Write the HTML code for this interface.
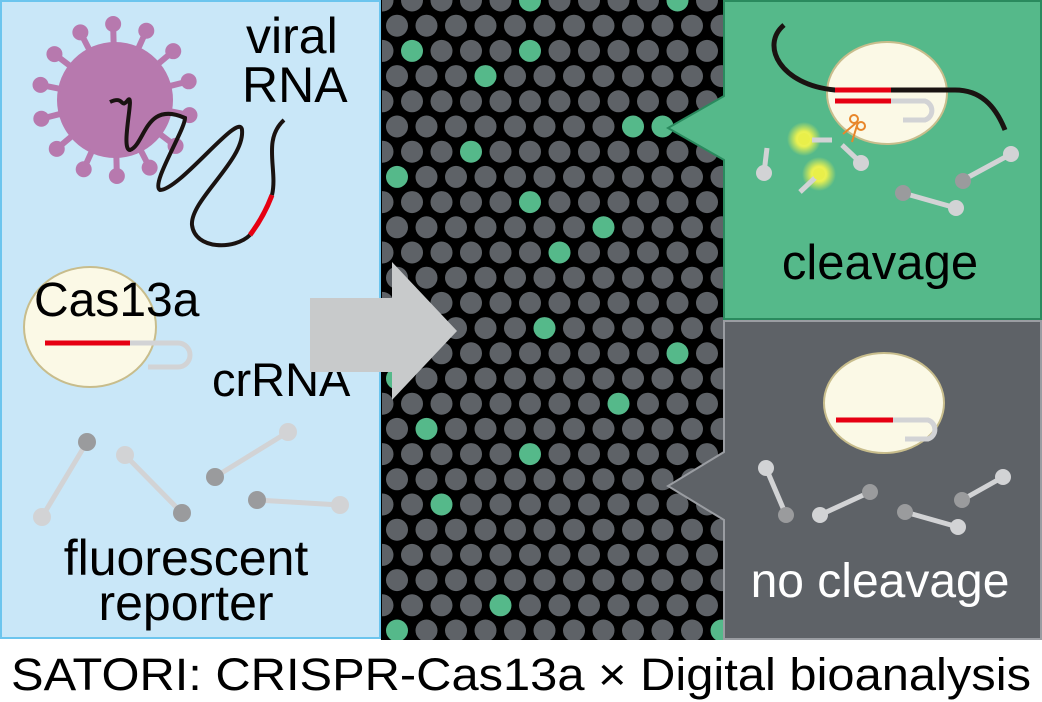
<!DOCTYPE html>
<html><head><meta charset="utf-8"><style>
html,body{margin:0;padding:0;background:#fff;}
svg{display:block;font-family:"Liberation Sans",Arial,sans-serif;}
</style></head><body>
<svg id="s" width="1042" height="702" viewBox="0 0 1042 702" xmlns="http://www.w3.org/2000/svg">
<defs>
<clipPath id="mid"><rect x="382" y="0" width="341" height="640"/></clipPath>
<radialGradient id="glow"><stop offset="0" stop-color="#f4f86a"/><stop offset="0.45" stop-color="#e8f050"/><stop offset="1" stop-color="#e8f050" stop-opacity="0"/></radialGradient>
</defs>
<rect x="1" y="1" width="379" height="637" fill="#c9e7f8" stroke="#6cc5ee" stroke-width="2"/>
<rect x="381" y="0" width="342" height="640" fill="#000"/>
<g id="dots" clip-path="url(#mid)"></g>
<path d="M724 1 H1041 V319 H724 V160 L668 128 L724 96 Z" fill="#55b98a" stroke="#2a8a5e" stroke-width="2"/>
<path d="M724 321 H1041 V639 H724 V520 L668 486 L724 452 Z" fill="#5e6267" stroke="#9a9da2" stroke-width="2"/>

<g fill="#b779ae" stroke="#b779ae">
<circle cx="115" cy="100" r="58" stroke="none"/>
<g stroke-width="6" id="spikes"></g>
</g>
<path d="M110 102 C125 95 120 110 128 100 C135 92 120 150 130 150 C145 145 145 100 185 118 C185 130 150 185 160 190 C180 190 240 110 242 130 C245 160 190 200 192 225 C195 250 235 250 250 235" fill="none" stroke="#1a1311" stroke-width="4"/>
<path d="M250 235 C265 215 270 200 272 195" fill="none" stroke="#e60012" stroke-width="5"/>
<path d="M272 195 C278 170 262 140 284 120" fill="none" stroke="#1a1311" stroke-width="4"/>
<text x="246" y="53" font-size="50">viral</text>
<text x="242" y="102" font-size="50">RNA</text>

<ellipse cx="90" cy="327" rx="66" ry="60" fill="#fbf9e6" stroke="#c8bd8c" stroke-width="2"/>
<text x="34" y="316" font-size="48">Cas13a</text>
<line x1="45" y1="343" x2="130" y2="343" stroke="#e60012" stroke-width="5"/>
<path d="M130 343 H178 A12 12 0 0 1 178 367 H148" fill="none" stroke="#d2d3d5" stroke-width="5"/>
<text x="212" y="396" font-size="47">crRNA</text>

<g stroke="#d2d3d5" stroke-width="5">
<line x1="42" y1="517" x2="87" y2="442"/><line x1="125" y1="455" x2="182" y2="513"/>
<line x1="215" y1="477" x2="288" y2="432"/><line x1="257" y1="500" x2="340" y2="505"/>
</g>
<circle cx="42" cy="517" r="9" fill="#d2d3d5"/><circle cx="87" cy="442" r="9" fill="#9a9b9d"/>
<circle cx="125" cy="455" r="9" fill="#d2d3d5"/><circle cx="182" cy="513" r="9" fill="#9a9b9d"/>
<circle cx="215" cy="477" r="9" fill="#9a9b9d"/><circle cx="288" cy="432" r="9" fill="#d2d3d5"/>
<circle cx="257" cy="500" r="9" fill="#9a9b9d"/><circle cx="340" cy="505" r="9" fill="#d2d3d5"/>
<text x="186" y="575" font-size="50" text-anchor="middle">fluorescent</text>
<text x="186" y="620" font-size="50" text-anchor="middle">reporter</text>

<path d="M310 298 H392 V262 L457 331 L392 400 V372 H310 Z" fill="#c8cacb"/>

<ellipse cx="887" cy="93" rx="60" ry="51" fill="#fbf9e6" stroke="#c8bd8c" stroke-width="2"/>
<path d="M784 25 C760 45 780 85 835 90 H955 C980 90 995 105 1005 130" fill="none" stroke="#1a1311" stroke-width="5"/>
<line x1="835" y1="90" x2="891" y2="90" stroke="#e60012" stroke-width="5"/>
<line x1="835" y1="101" x2="891" y2="101" stroke="#e60012" stroke-width="5"/>
<path d="M891 101 H925 A10 10 0 0 1 925 120 H903" fill="none" stroke="#d2d3d5" stroke-width="5"/>
<g stroke="#e8862a" stroke-width="2" fill="none"><circle cx="854" cy="119" r="4"/><circle cx="861" cy="126" r="4"/><line x1="856" y1="123" x2="843" y2="134"/><line x1="858" y1="122" x2="852" y2="142"/></g>
<circle cx="804" cy="139" r="17" fill="url(#glow)"/><circle cx="819" cy="174" r="17" fill="url(#glow)"/>
<g stroke="#d2d3d5" stroke-width="5">
<line x1="812" y1="140" x2="832" y2="140"/><line x1="842" y1="145" x2="860" y2="162"/>
<line x1="767" y1="148" x2="764" y2="173"/><line x1="817" y1="176" x2="800" y2="192"/>
<line x1="963" y1="180" x2="1011" y2="154"/><line x1="903" y1="193" x2="956" y2="208"/>
</g>
<circle cx="804" cy="139" r="6" fill="#e9ef4a"/><circle cx="819" cy="174" r="6" fill="#e9ef4a"/>
<circle cx="861" cy="163" r="8" fill="#d2d3d5"/><circle cx="764" cy="173" r="8" fill="#d2d3d5"/>
<circle cx="963" cy="181" r="8" fill="#9a9b9d"/><circle cx="1011" cy="154" r="8" fill="#d2d3d5"/>
<circle cx="903" cy="193" r="8" fill="#9a9b9d"/><circle cx="956" cy="208" r="8" fill="#d2d3d5"/>
<text x="880" y="279" font-size="49" text-anchor="middle">cleavage</text>

<ellipse cx="884" cy="403" rx="60" ry="50" fill="#fbf9e6" stroke="#c8bd8c" stroke-width="2"/>
<line x1="836" y1="420" x2="893" y2="420" stroke="#e60012" stroke-width="5"/>
<path d="M893 420 H928 A10 10 0 0 1 928 439 H905" fill="none" stroke="#d2d3d5" stroke-width="5"/>
<g stroke="#d2d3d5" stroke-width="5">
<line x1="766" y1="468" x2="786" y2="515"/><line x1="820" y1="515" x2="870" y2="492"/>
<line x1="905" y1="512" x2="958" y2="527"/><line x1="962" y1="500" x2="1003" y2="477"/>
</g>
<circle cx="766" cy="468" r="8" fill="#d2d3d5"/><circle cx="786" cy="515" r="8" fill="#9a9b9d"/>
<circle cx="820" cy="515" r="8" fill="#d2d3d5"/><circle cx="870" cy="492" r="8" fill="#9a9b9d"/>
<circle cx="905" cy="512" r="8" fill="#9a9b9d"/><circle cx="958" cy="527" r="8" fill="#d2d3d5"/>
<circle cx="962" cy="500" r="8" fill="#9a9b9d"/><circle cx="1003" cy="477" r="8" fill="#d2d3d5"/>
<text x="880" y="597" font-size="48" text-anchor="middle" fill="#fff">no cleavage</text>

<text x="521" y="690" font-size="45" text-anchor="middle" textLength="1020" lengthAdjust="spacingAndGlyphs">SATORI: CRISPR-Cas13a × Digital bioanalysis</text>
</svg>
<script>
(function(){
var ns="http://www.w3.org/2000/svg",g=document.getElementById("dots");
var greens=[[412,51],[530,0],[530,51],[471,76],[471,151],[397,177],[530,202],[603,227],[560,252],[633,126],[662,126],[545,328],[677,353],[397,378],[618,404],[427,429],[530,455],[442,505],[501,606],[397,631],[707,631],[677,0]];
function isG(x,y){for(var i=0;i<greens.length;i++){if(Math.abs(greens[i][0]-x)<15&&Math.abs(greens[i][1]-y)<13)return true;}return false;}
for(var r=0;r<27;r++){var y=r*25.2+0.5;var off=(r%2==1)?397:382.5;
for(var x=off;x<740;x+=29.5){var c=document.createElementNS(ns,"circle");c.setAttribute("cx",x);c.setAttribute("cy",y);c.setAttribute("r",11);c.setAttribute("fill",isG(x,y)?"#55b98a":"#5e6267");g.appendChild(c);}}
var sp=document.getElementById("spikes");
for(var k=0;k<14;k++){var a=k*2*Math.PI/14+0.2;var x1=115+55*Math.cos(a),y1=100+55*Math.sin(a),x2=115+74*Math.cos(a),y2=100+74*Math.sin(a);
var l=document.createElementNS(ns,"line");l.setAttribute("x1",x1);l.setAttribute("y1",y1);l.setAttribute("x2",x2);l.setAttribute("y2",y2);sp.appendChild(l);
var e=document.createElementNS(ns,"circle");e.setAttribute("cx",115+76*Math.cos(a));e.setAttribute("cy",100+76*Math.sin(a));e.setAttribute("r",8);e.setAttribute("stroke","none");sp.appendChild(e);}
})();
</script>
</body></html>
